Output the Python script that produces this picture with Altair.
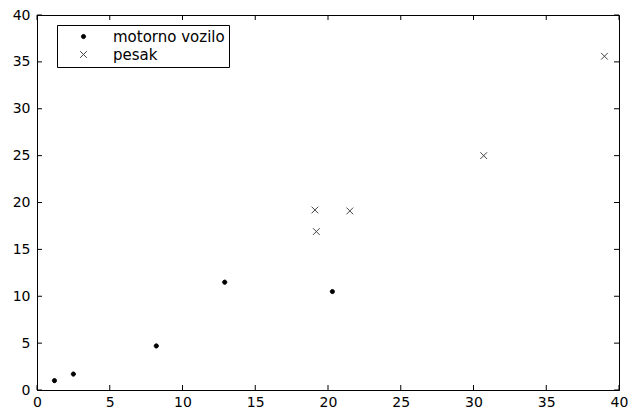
import altair as alt
import pandas as pd

# data
motor_x = [1.2, 2.5, 8.2, 12.9, 20.3]
motor_y = [1.0, 1.7, 4.7, 11.5, 10.5]
pesak_x = [19.1, 21.5, 19.2, 30.7, 39.0]
pesak_y = [19.2, 19.1, 16.9, 25.0, 35.6]
categories = ["motorno vozilo", "pesak"]
tick_values = [0, 5, 10, 15, 20, 25, 30, 35, 40]

W, H = 582, 375
FONT = "DejaVu Sans"

df = pd.DataFrame({
    "x": motor_x + pesak_x,
    "y": motor_y + pesak_y,
    "kind": [categories[0]] * len(motor_x) + [categories[1]] * len(pesak_x),
})
ticks = pd.DataFrame({"v": tick_values})

xscale = alt.Scale(domain=[0, 40], nice=False, zero=False)
yscale = alt.Scale(domain=[0, 40], nice=False, zero=False)

XPATH = "M-1,-1L1,1M-1,1L1,-1"
DOT = "M0,-0.62A0.62,0.62 0 1,1 0,0.62A0.62,0.62 0 1,1 0,-0.62Z"

xaxis = alt.Axis(values=tick_values, title=None, ticks=False, grid=False,
                 labelFont=FONT, labelFontSize=14, labelColor="black",
                 labelPadding=5, domainColor="black", labelFlush=False)
yaxis = alt.Axis(values=tick_values, title=None, ticks=False, grid=False,
                 labelFont=FONT, labelFontSize=14, labelColor="black",
                 labelPadding=7, domainColor="black", labelFlush=False)

legend = alt.Legend(
    title=None, orient="none", legendX=20, legendY=10,
    strokeColor="black", fillColor="white", padding=4,
    labelFont=FONT, labelFontSize=15, labelColor="black",
    labelExpr="datum.label + '    '",
    symbolOffset=15, labelOffset=22, rowPadding=2, symbolSize=45,
    symbolStrokeWidth=1,
)

points = alt.Chart(df).mark_point(size=45, strokeWidth=1, opacity=1).encode(
    x=alt.X("x:Q", scale=xscale, axis=xaxis),
    y=alt.Y("y:Q", scale=yscale, axis=yaxis),
    shape=alt.Shape("kind:N", scale=alt.Scale(domain=categories, range=[DOT, XPATH]), legend=legend),
    fill=alt.Fill("kind:N", scale=alt.Scale(domain=categories, range=["black", "white"]), legend=legend),
    stroke=alt.Stroke("kind:N", scale=alt.Scale(domain=categories, range=["black", "#444444"]), legend=legend),
)

tick_len = 5
bottom = alt.Chart(ticks).mark_rule(color="black", strokeWidth=1).encode(
    x=alt.X("v:Q", scale=xscale, axis=xaxis), y=alt.value(H), y2=alt.value(H - tick_len))
top = alt.Chart(ticks).mark_rule(color="black", strokeWidth=1).encode(
    x=alt.X("v:Q", scale=xscale, axis=xaxis), y=alt.value(0), y2=alt.value(tick_len))
left = alt.Chart(ticks).mark_rule(color="black", strokeWidth=1).encode(
    y=alt.Y("v:Q", scale=yscale, axis=yaxis), x=alt.value(0), x2=alt.value(tick_len))
right = alt.Chart(ticks).mark_rule(color="black", strokeWidth=1).encode(
    y=alt.Y("v:Q", scale=yscale, axis=yaxis), x=alt.value(W), x2=alt.value(W - tick_len))

chart = alt.layer(points, bottom, top, left, right).properties(
    width=W, height=H,
    autosize=alt.AutoSizeParams(type="none"),
    padding={"left": 29, "top": 7, "right": 14, "bottom": 20},
    background="white",
).configure_view(stroke="black", strokeWidth=1)

chart.save("out.html", embed_options={"renderer": "svg", "actions": False})
